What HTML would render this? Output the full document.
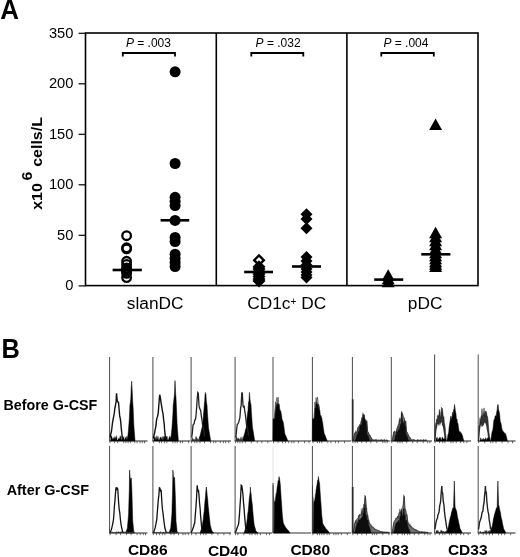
<!DOCTYPE html><html><head><meta charset="utf-8"><title>Figure</title><style>html,body{margin:0;padding:0;background:#fff}svg{display:block}text{font-family:"Liberation Sans",Arial,Helvetica,sans-serif;fill:#000}</style></head><body>
<svg width="520" height="557" viewBox="0 0 520 557">
<rect width="520" height="557" fill="#fff"/>
<text transform="translate(0.2,18.9) scale(0.95,1)" font-size="27.3" font-weight="bold">A</text>
<g stroke="#000" stroke-width="1.6" fill="none" stroke-linecap="butt">
<rect x="85.5" y="33" width="392.5" height="252.60000000000002"/>
<line x1="216.3" y1="33" x2="216.3" y2="285.6"/><line x1="346.9" y1="33" x2="346.9" y2="285.6"/>
</g>
<g stroke="#000" stroke-width="1.2">
<line x1="78.6" y1="33.3" x2="85.5" y2="33.3"/>
<line x1="78.6" y1="83.8" x2="85.5" y2="83.8"/>
<line x1="78.6" y1="134.3" x2="85.5" y2="134.3"/>
<line x1="78.6" y1="184.8" x2="85.5" y2="184.8"/>
<line x1="78.6" y1="235.3" x2="85.5" y2="235.3"/>
<line x1="78.6" y1="285.90000000000003" x2="85.5" y2="285.90000000000003"/>
</g>
<text x="73.4" y="37.9" font-size="14.7" text-anchor="end">350</text>
<text x="73.4" y="88.4" font-size="14.7" text-anchor="end">200</text>
<text x="73.4" y="138.9" font-size="14.7" text-anchor="end">150</text>
<text x="73.4" y="189.4" font-size="14.7" text-anchor="end">100</text>
<text x="73.4" y="239.9" font-size="14.7" text-anchor="end">50</text>
<text x="73.4" y="289.6" font-size="14.7" text-anchor="end">0</text>
<g transform="translate(41.9,209.8) rotate(-90) scale(1,0.93)" font-weight="bold" font-size="16"><text x="0" y="0">x10</text><text x="29.2" y="-10.2">6</text><text x="43" y="0">cells/L</text></g>
<path d="M122.8 56.6V53H175V56.6" fill="none" stroke="#000" stroke-width="1.8"/>
<text x="148.4" y="47" font-size="12" text-anchor="middle"><tspan font-style="italic">P</tspan> = .003</text>
<path d="M251.3 56.6V53H303.3V56.6" fill="none" stroke="#000" stroke-width="1.8"/>
<text x="278.1" y="47" font-size="12" text-anchor="middle"><tspan font-style="italic">P</tspan> = .032</text>
<path d="M381.3 56.6V53H433.8V56.6" fill="none" stroke="#000" stroke-width="1.8"/>
<text x="405.9" y="47" font-size="12" text-anchor="middle"><tspan font-style="italic">P</tspan> = .004</text>
<text x="155.2" y="308.5" font-size="17.3" text-anchor="middle">slanDC</text>
<text x="425.1" y="308.5" font-size="17.3" text-anchor="middle">pDC</text>
<text x="286.7" y="308.5" font-size="17.3" text-anchor="middle">CD1c<tspan font-size="10" dy="-3.6">+</tspan><tspan dy="3.6"> DC</tspan></text>
<circle cx="126.6" cy="235.7" r="4.3" fill="none" stroke="#000" stroke-width="2.3"/>
<circle cx="126.6" cy="247.8" r="4.3" fill="none" stroke="#000" stroke-width="2.3"/>
<circle cx="126.6" cy="248.9" r="4.3" fill="none" stroke="#000" stroke-width="2.3"/>
<circle cx="126.6" cy="261.3" r="4.3" fill="none" stroke="#000" stroke-width="2.3"/>
<circle cx="126.6" cy="264.5" r="4.3" fill="none" stroke="#000" stroke-width="2.3"/>
<circle cx="126.6" cy="268" r="4.3" fill="none" stroke="#000" stroke-width="2.3"/>
<circle cx="126.6" cy="269.8" r="4.3" fill="none" stroke="#000" stroke-width="2.3"/>
<circle cx="126.6" cy="271.5" r="4.3" fill="none" stroke="#000" stroke-width="2.3"/>
<circle cx="126.6" cy="273.3" r="4.3" fill="none" stroke="#000" stroke-width="2.3"/>
<circle cx="126.6" cy="277.6" r="4.3" fill="none" stroke="#000" stroke-width="2.3"/>
<line x1="112.6" y1="270" x2="141.8" y2="270" stroke="#000" stroke-width="2.6"/>
<circle cx="175.1" cy="71.8" r="5.5" fill="#000"/>
<circle cx="175.1" cy="163.5" r="5.5" fill="#000"/>
<circle cx="175.1" cy="197.3" r="5.5" fill="#000"/>
<circle cx="175.1" cy="201.3" r="5.5" fill="#000"/>
<circle cx="175.1" cy="205.5" r="5.5" fill="#000"/>
<circle cx="175.1" cy="220.4" r="5.5" fill="#000"/>
<circle cx="175.1" cy="237.5" r="5.5" fill="#000"/>
<circle cx="175.1" cy="241.5" r="5.5" fill="#000"/>
<circle cx="175.1" cy="254.2" r="5.5" fill="#000"/>
<circle cx="175.1" cy="258.5" r="5.5" fill="#000"/>
<circle cx="175.1" cy="262.5" r="5.5" fill="#000"/>
<circle cx="175.1" cy="266.5" r="5.5" fill="#000"/>
<line x1="160.6" y1="220.3" x2="189.2" y2="220.3" stroke="#000" stroke-width="2.6"/>
<path d="M259 255.39999999999998L263.8 260.2L259 265.0L254.2 260.2Z" fill="#fff" stroke="#000" stroke-width="2.4"/>
<path d="M259 262.0L263.8 266.8L259 271.6L254.2 266.8Z" fill="#000" fill-opacity="0.55" stroke="#000" stroke-width="2.4"/>
<path d="M259 264.2L263.8 269L259 273.8L254.2 269Z" fill="#000" fill-opacity="0.55" stroke="#000" stroke-width="2.4"/>
<path d="M259 266.7L263.8 271.5L259 276.3L254.2 271.5Z" fill="#000" fill-opacity="0.55" stroke="#000" stroke-width="2.4"/>
<path d="M259 269.2L263.8 274L259 278.8L254.2 274Z" fill="#000" fill-opacity="0.55" stroke="#000" stroke-width="2.4"/>
<path d="M259 271.7L263.8 276.5L259 281.3L254.2 276.5Z" fill="#000" fill-opacity="0.55" stroke="#000" stroke-width="2.4"/>
<path d="M259 274.2L263.8 279L259 283.8L254.2 279Z" fill="#000" fill-opacity="0.55" stroke="#000" stroke-width="2.4"/>
<path d="M259 276.2L263.8 281L259 285.8L254.2 281Z" fill="#000" fill-opacity="0.55" stroke="#000" stroke-width="2.4"/>
<line x1="244.2" y1="272" x2="273" y2="272" stroke="#000" stroke-width="2.6"/>
<path d="M306.5 208.2L312.5 214.2L306.5 220.2L300.5 214.2Z" fill="#000"/>
<path d="M306.5 213L312.5 219L306.5 225L300.5 219Z" fill="#000"/>
<path d="M306.5 222.2L312.5 228.2L306.5 234.2L300.5 228.2Z" fill="#000"/>
<path d="M306.5 251L312.5 257L306.5 263L300.5 257Z" fill="#000"/>
<path d="M306.5 255L312.5 261L306.5 267L300.5 261Z" fill="#000"/>
<path d="M306.5 259L312.5 265L306.5 271L300.5 265Z" fill="#000"/>
<path d="M306.5 263L312.5 269L306.5 275L300.5 269Z" fill="#000"/>
<path d="M306.5 266L312.5 272L306.5 278L300.5 272Z" fill="#000"/>
<path d="M306.5 269L312.5 275L306.5 281L300.5 275Z" fill="#000"/>
<path d="M306.5 271.5L312.5 277.5L306.5 283.5L300.5 277.5Z" fill="#000"/>
<line x1="292" y1="266.5" x2="321" y2="266.5" stroke="#000" stroke-width="2.6"/>
<path d="M388.2 269.3L394.7 280.8L381.7 280.8Z" fill="#000"/>
<path d="M388.2 272.7L394.7 284.2L381.7 284.2Z" fill="#000"/>
<path d="M388.2 275.7L394.7 287.2L381.7 287.2Z" fill="#000"/>
<line x1="374.2" y1="279.6" x2="403.2" y2="279.6" stroke="#000" stroke-width="2.6"/>
<path d="M435.6 118.5L442.1 130.0L429.1 130.0Z" fill="#000"/>
<path d="M435.6 226.7L442.1 238.2L429.1 238.2Z" fill="#000"/>
<path d="M435.6 230.7L442.1 242.2L429.1 242.2Z" fill="#000"/>
<path d="M435.6 234.7L442.1 246.2L429.1 246.2Z" fill="#000"/>
<path d="M435.6 238.7L442.1 250.2L429.1 250.2Z" fill="#000"/>
<path d="M435.6 242.7L442.1 254.2L429.1 254.2Z" fill="#000"/>
<path d="M435.6 246.7L442.1 258.2L429.1 258.2Z" fill="#000"/>
<path d="M435.6 249.7L442.1 261.2L429.1 261.2Z" fill="#000"/>
<path d="M435.6 252.7L442.1 264.2L429.1 264.2Z" fill="#000"/>
<path d="M435.6 255.7L442.1 267.2L429.1 267.2Z" fill="#000"/>
<path d="M435.6 258.2L442.1 269.7L429.1 269.7Z" fill="#000"/>
<path d="M435.6 260.4L442.1 271.9L429.1 271.9Z" fill="#000"/>
<line x1="421.3" y1="254.3" x2="450.4" y2="254.3" stroke="#000" stroke-width="2.6"/>
<text transform="translate(1.5,357.8) scale(0.93,1)" font-size="27.3" font-weight="bold">B</text>
<text x="3.5" y="409.5" font-size="14.3" font-weight="bold">Before G-CSF</text>
<text x="6.7" y="495" font-size="14.4" font-weight="bold">After G-CSF</text>
<text x="127.9" y="555.3" font-size="15.5" font-weight="bold">CD86</text>
<text x="207.9" y="556" font-size="15.5" font-weight="bold">CD40</text>
<text x="290.4" y="555.3" font-size="15.5" font-weight="bold">CD80</text>
<text x="369.2" y="555.3" font-size="15.5" font-weight="bold">CD83</text>
<text x="447.9" y="555.3" font-size="15.5" font-weight="bold">CD33</text>
<path d="M109.6 357V441" fill="none" stroke="#4a4a4a" stroke-width="1"/>
<path d="M109.1 441H147.5" fill="none" stroke="#222" stroke-width="1.2"/>
<path d="M110.1 441v2.2M114.6 441v2.2M117.7 441v2.2M123.7 441v2.2M125.9 441v2.2M128.1 441v2.2M130.3 441v2.2M134.8 441v2.2M137.0 441v2.2M140.1 441v2.2M142.3 441v2.2M144.5 441v2.2" stroke="#444" stroke-width="0.8" fill="none"/>
<path d="M152.9 357V441" fill="none" stroke="#4a4a4a" stroke-width="1"/>
<path d="M152.4 441H190" fill="none" stroke="#222" stroke-width="1.2"/>
<path d="M153.4 441v2.2M159.4 441v2.2M161.6 441v2.2M164.7 441v2.2M166.9 441v2.2M172.9 441v2.2M175.1 441v2.2M177.3 441v2.2M180.4 441v2.2M182.6 441v2.2M188.6 441v2.2" stroke="#444" stroke-width="0.8" fill="none"/>
<path d="M191.1 357V441" fill="none" stroke="#4a4a4a" stroke-width="1"/>
<path d="M190.6 441H231" fill="none" stroke="#222" stroke-width="1.2"/>
<path d="M191.6 441v2.2M194.7 441v2.2M196.9 441v2.2M200.0 441v2.2M204.5 441v2.2M210.5 441v2.2M213.6 441v2.2M215.8 441v2.2M220.3 441v2.2M223.4 441v2.2M225.6 441v2.2M228.7 441v2.2" stroke="#444" stroke-width="0.8" fill="none"/>
<path d="M235.1 357V441" fill="none" stroke="#4a4a4a" stroke-width="1"/>
<path d="M234.6 441H272" fill="none" stroke="#222" stroke-width="1.2"/>
<path d="M235.6 441v2.2M237.8 441v2.2M240.0 441v2.2M242.2 441v2.2M245.3 441v2.2M251.3 441v2.2M257.3 441v2.2M261.8 441v2.2M267.8 441v2.2" stroke="#444" stroke-width="0.8" fill="none"/>
<path d="M273 357V441" fill="none" stroke="#4a4a4a" stroke-width="1"/>
<path d="M272.5 441H311" fill="none" stroke="#222" stroke-width="1.2"/>
<path d="M273.5 441v2.2M278.0 441v2.2M282.5 441v2.2M285.6 441v2.2M288.7 441v2.2M291.8 441v2.2M294.0 441v2.2M298.5 441v2.2M304.5 441v2.2M309.0 441v2.2" stroke="#444" stroke-width="0.8" fill="none"/>
<path d="M312.4 357V441" fill="none" stroke="#4a4a4a" stroke-width="1"/>
<path d="M311.9 441H351" fill="none" stroke="#222" stroke-width="1.2"/>
<path d="M312.9 441v2.2M317.4 441v2.2M319.6 441v2.2M321.8 441v2.2M327.8 441v2.2M330.9 441v2.2M335.4 441v2.2M338.5 441v2.2M344.5 441v2.2" stroke="#444" stroke-width="0.8" fill="none"/>
<path d="M352.4 357V441" fill="none" stroke="#4a4a4a" stroke-width="1"/>
<path d="M351.9 441H390" fill="none" stroke="#222" stroke-width="1.2"/>
<path d="M352.9 441v2.2M355.1 441v2.2M357.3 441v2.2M361.8 441v2.2M366.3 441v2.2M370.8 441v2.2M376.8 441v2.2M382.8 441v2.2M385.0 441v2.2M387.2 441v2.2" stroke="#444" stroke-width="0.8" fill="none"/>
<line x1="352.7" y1="399.3" x2="352.7" y2="441" stroke="#2a2a2a" stroke-width="1.7"/>
<path d="M391.3 357V441" fill="none" stroke="#4a4a4a" stroke-width="1"/>
<path d="M390.8 441H432" fill="none" stroke="#222" stroke-width="1.2"/>
<path d="M391.8 441v2.2M397.8 441v2.2M400.0 441v2.2M402.2 441v2.2M406.7 441v2.2M412.7 441v2.2M417.2 441v2.2M423.2 441v2.2M427.7 441v2.2M429.9 441v2.2" stroke="#444" stroke-width="0.8" fill="none"/>
<path d="M434.6 354.5V441" fill="none" stroke="#4a4a4a" stroke-width="1"/>
<path d="M434.1 441H471" fill="none" stroke="#222" stroke-width="1.2"/>
<path d="M435.1 441v2.2M439.6 441v2.2M442.7 441v2.2M444.9 441v2.2M450.9 441v2.2M453.1 441v2.2M456.2 441v2.2M460.7 441v2.2M463.8 441v2.2M466.9 441v2.2" stroke="#444" stroke-width="0.8" fill="none"/>
<path d="M478.2 354.5V441" fill="none" stroke="#4a4a4a" stroke-width="1"/>
<path d="M477.7 441H515.5" fill="none" stroke="#222" stroke-width="1.2"/>
<path d="M478.7 441v2.2M484.7 441v2.2M490.7 441v2.2M492.9 441v2.2M496.0 441v2.2M502.0 441v2.2M508.0 441v2.2M512.5 441v2.2" stroke="#444" stroke-width="0.8" fill="none"/>
<path d="M109.6 446V533" fill="none" stroke="#4a4a4a" stroke-width="1"/>
<path d="M109.1 533H147.5" fill="none" stroke="#222" stroke-width="1.2"/>
<path d="M110.1 533v2.2M116.1 533v2.2M120.6 533v2.2M126.6 533v2.2M131.1 533v2.2M137.1 533v2.2M140.2 533v2.2M143.3 533v2.2M145.5 533v2.2" stroke="#444" stroke-width="0.8" fill="none"/>
<path d="M152.9 446V533" fill="none" stroke="#4a4a4a" stroke-width="1"/>
<path d="M152.4 533H190" fill="none" stroke="#222" stroke-width="1.2"/>
<path d="M153.4 533v2.2M156.5 533v2.2M159.6 533v2.2M162.7 533v2.2M164.9 533v2.2M170.9 533v2.2M174.0 533v2.2M178.5 533v2.2M183.0 533v2.2M185.2 533v2.2M188.3 533v2.2" stroke="#444" stroke-width="0.8" fill="none"/>
<path d="M191.1 446V533" fill="none" stroke="#4a4a4a" stroke-width="1"/>
<path d="M190.6 533H231" fill="none" stroke="#222" stroke-width="1.2"/>
<path d="M191.6 533v2.2M196.1 533v2.2M200.6 533v2.2M203.7 533v2.2M205.9 533v2.2M211.9 533v2.2M217.9 533v2.2M223.9 533v2.2M229.9 533v2.2" stroke="#444" stroke-width="0.8" fill="none"/>
<path d="M235.1 446V533" fill="none" stroke="#4a4a4a" stroke-width="1"/>
<path d="M234.6 533H272" fill="none" stroke="#222" stroke-width="1.2"/>
<path d="M235.6 533v2.2M237.8 533v2.2M243.8 533v2.2M249.8 533v2.2M252.0 533v2.2M255.1 533v2.2M257.3 533v2.2M260.4 533v2.2M266.4 533v2.2M269.5 533v2.2" stroke="#444" stroke-width="0.8" fill="none"/>
<path d="M273 483V533H311" fill="none" stroke="#333" stroke-width="1"/>
<line x1="273" y1="446" x2="273" y2="483" stroke="#ddd" stroke-width="0.8"/>
<path d="M312.4 446V533" fill="none" stroke="#4a4a4a" stroke-width="1"/>
<path d="M311.9 533H351" fill="none" stroke="#222" stroke-width="1.2"/>
<path d="M312.9 533v2.2M317.4 533v2.2M319.6 533v2.2M321.8 533v2.2M324.0 533v2.2M327.1 533v2.2M329.3 533v2.2M333.8 533v2.2M336.0 533v2.2M338.2 533v2.2M341.3 533v2.2M347.3 533v2.2" stroke="#444" stroke-width="0.8" fill="none"/>
<path d="M352.4 446V533" fill="none" stroke="#4a4a4a" stroke-width="1"/>
<path d="M351.9 533H390" fill="none" stroke="#222" stroke-width="1.2"/>
<path d="M352.9 533v2.2M357.4 533v2.2M361.9 533v2.2M366.4 533v2.2M372.4 533v2.2M374.6 533v2.2M376.8 533v2.2M382.8 533v2.2M388.8 533v2.2" stroke="#444" stroke-width="0.8" fill="none"/>
<line x1="352.7" y1="487" x2="352.7" y2="533" stroke="#2a2a2a" stroke-width="1.7"/>
<path d="M391.3 446V533" fill="none" stroke="#4a4a4a" stroke-width="1"/>
<path d="M390.8 533H432" fill="none" stroke="#222" stroke-width="1.2"/>
<path d="M391.8 533v2.2M397.8 533v2.2M402.3 533v2.2M404.5 533v2.2M407.6 533v2.2M409.8 533v2.2M414.3 533v2.2M418.8 533v2.2M424.8 533v2.2M427.9 533v2.2M430.1 533v2.2" stroke="#444" stroke-width="0.8" fill="none"/>
<path d="M434.6 446V533" fill="none" stroke="#4a4a4a" stroke-width="1"/>
<path d="M434.1 533H471" fill="none" stroke="#222" stroke-width="1.2"/>
<path d="M435.1 533v2.2M439.6 533v2.2M442.7 533v2.2M444.9 533v2.2M449.4 533v2.2M451.6 533v2.2M456.1 533v2.2M460.6 533v2.2M463.7 533v2.2M468.2 533v2.2" stroke="#444" stroke-width="0.8" fill="none"/>
<path d="M478.2 446V533" fill="none" stroke="#4a4a4a" stroke-width="1"/>
<path d="M477.7 533H515.5" fill="none" stroke="#222" stroke-width="1.2"/>
<path d="M478.7 533v2.2M483.2 533v2.2M486.3 533v2.2M489.4 533v2.2M492.5 533v2.2M498.5 533v2.2M501.6 533v2.2M504.7 533v2.2M510.7 533v2.2" stroke="#444" stroke-width="0.8" fill="none"/>
<path d="M110.6 441.0L110.6 436.9L111.2 435.6L111.8 436.6L112.4 438.3L113.0 439.8L113.6 437.6L114.2 439.0L114.8 436.5L115.4 437.0L116.0 438.9L116.6 435.6L117.2 440.4L117.8 440.3L118.4 438.3L119.0 439.0L119.6 438.2L120.2 435.6L120.8 437.6L121.4 440.8L122.0 436.0L122.6 439.0L123.2 437.4L123.8 436.4L124.4 440.2L125.0 438.7L125.6 437.0L126.2 439.7L126.8 436.1L127.4 438.5L127.6 441.0Z" fill="#000" fill-opacity="1" stroke="#000" stroke-width="0.3"/>
<path d="M110.1 437.3L110.7 434.2L111.3 432.1L111.8 428.7L112.5 422.8L113.1 419.5L113.5 417.4L114.3 413.2L114.9 407.9L115.2 407.0L116.1 401.4L116.5 393.3L117.3 401.2L117.8 401.9L118.5 402.3L119.2 410.5L119.7 416.2L120.4 419.2L120.9 423.6L121.3 428.7L122.1 435.7L122.3 438.2" fill="none" stroke="#111" stroke-width="1.4" stroke-linejoin="miter" stroke-miterlimit="3"/>
<path d="M127.2 441.0L127.2 440.3L127.7 436.8L128.2 433.1L128.7 426.7L129.3 419.2L129.7 410.4L129.9 405.4L130.2 403.7L130.8 398.4L131.2 388.6L131.7 381.2L132.4 394.9L132.7 402.0L133.1 407.2L133.8 424.4L134.2 429.9L134.7 436.8L135.0 440.3L135.0 441.0Z" fill="#000" fill-opacity="1" stroke="#000" stroke-opacity="1" stroke-width="0.5"/>
<path d="M153.9 441.0L153.9 436.6L154.5 437.0L155.1 440.3L155.7 436.8L156.3 440.1L156.9 435.6L157.5 439.8L158.1 436.2L158.7 440.7L159.3 439.7L159.9 438.1L160.5 436.8L161.1 439.1L161.7 437.9L162.3 436.4L162.9 440.5L163.5 436.9L164.1 436.0L164.7 437.3L165.3 436.5L165.9 438.1L166.5 436.4L167.1 436.1L167.7 440.1L168.3 440.0L168.9 438.1L169.5 436.2L170.1 436.7L170.7 437.6L170.9 441.0Z" fill="#000" fill-opacity="1" stroke="#000" stroke-width="0.3"/>
<path d="M153.4 438.5L154.0 435.2L154.6 433.1L155.1 429.9L155.8 426.6L156.4 421.2L156.8 418.6L157.6 416.2L158.2 413.3L158.6 408.2L159.4 397.5L159.8 394.5L160.6 399.2L161.1 403.1L161.8 407.1L162.5 411.7L163.0 413.4L163.7 420.4L164.2 423.8L164.6 429.9L165.4 437.2L165.6 439.4" fill="none" stroke="#111" stroke-width="1.4" stroke-linejoin="miter" stroke-miterlimit="3"/>
<path d="M170.5 441.0L170.5 439.7L171.0 436.4L171.5 432.5L172.0 427.1L172.6 418.6L173.0 411.7L173.2 404.8L173.5 403.2L174.1 397.8L174.5 393.4L175.0 380.6L175.7 394.3L176.0 397.8L176.4 406.6L177.1 423.8L177.5 430.0L178.0 436.0L178.3 439.7L178.3 441.0Z" fill="#000" fill-opacity="1" stroke="#000" stroke-opacity="1" stroke-width="0.5"/>
<path d="M198.5 441.0L198.5 440.3L199.0 438.5L199.5 437.0L200.0 435.7L200.5 434.1L200.7 433.0L201.0 432.0L201.5 429.5L202.0 428.0L202.4 426.1L203.0 421.0L203.7 412.3L204.0 409.0L204.5 401.9L204.7 401.8L205.0 395.2L205.4 392.4L206.0 394.8L206.4 402.0L207.0 405.2L207.4 412.3L208.0 420.9L208.5 427.8L209.0 430.8L209.5 433.8L210.0 436.7L210.6 440.3L210.6 441.0Z" fill="#000" fill-opacity="1" stroke="#000" stroke-opacity="1" stroke-width="0.5"/>
<path d="M192.0 441.0L192.0 439.3L192.6 437.6L193.2 438.7L193.8 439.8L194.4 439.3L195.0 440.2L195.6 437.1L196.2 436.3L196.8 437.7L197.4 439.0L198.0 439.6L198.6 440.1L199.2 438.6L199.8 437.2L200.0 441.0Z" fill="#333" fill-opacity="1" stroke="#333" stroke-width="0.3"/>
<path d="M191.7 437.4L192.3 433.2L192.9 426.1L193.3 424.4L194.1 423.9L194.7 420.3L195.5 419.2L195.9 417.0L196.7 407.0L197.1 399.7L197.8 392.5L198.3 393.2L199.0 405.4L199.5 407.8L200.1 409.4L200.7 410.6L201.3 415.8L201.9 419.2L202.5 424.7L203.3 427.8L203.7 430.8L204.3 434.4L204.7 436.5" fill="none" stroke="#222" stroke-width="1.3" stroke-linejoin="miter" stroke-miterlimit="3"/>
<path d="M242.5 441.0L242.5 440.3L243.0 438.7L243.5 436.9L244.0 435.6L244.5 433.8L244.7 433.0L245.0 432.3L245.5 429.2L246.0 428.8L246.4 426.1L247.0 418.7L247.7 412.3L248.0 410.5L248.5 401.9L248.7 401.8L249.0 401.0L249.4 392.4L250.0 399.3L250.4 402.0L251.0 405.2L251.4 412.3L252.0 421.0L252.5 427.8L253.0 430.2L253.5 433.3L254.0 436.4L254.6 440.3L254.6 441.0Z" fill="#000" fill-opacity="1" stroke="#000" stroke-opacity="1" stroke-width="0.5"/>
<path d="M236.0 441.0L236.0 437.6L236.6 436.3L237.2 438.9L237.8 438.2L238.4 438.3L239.0 438.4L239.6 439.2L240.2 439.5L240.8 437.0L241.4 439.9L242.0 436.5L242.6 439.5L243.2 440.7L243.8 440.4L244.0 441.0Z" fill="#333" fill-opacity="1" stroke="#333" stroke-width="0.3"/>
<path d="M235.7 437.4L236.3 432.9L236.9 427.0L237.3 424.4L238.1 423.7L238.7 422.2L239.5 419.2L239.9 417.6L240.7 407.0L241.1 406.3L241.8 392.5L242.3 393.2L243.0 405.4L243.5 407.6L244.1 405.6L244.7 410.6L245.3 414.1L245.9 419.2L246.5 424.9L247.3 427.8L247.7 429.9L248.3 433.4L248.7 436.5" fill="none" stroke="#222" stroke-width="1.3" stroke-linejoin="miter" stroke-miterlimit="3"/>
<path d="M272.9 441.0L272.9 440.4L273.1 420.5L273.4 418.3L273.9 419.3L274.4 418.7L274.6 417.5L274.9 413.1L275.5 407.9L275.9 405.6L276.4 404.0L276.9 403.4L277.4 404.4L277.8 402.8L278.4 403.7L279.0 404.0L279.4 405.7L279.9 410.0L280.2 410.6L280.4 410.4L280.9 411.7L281.6 415.7L281.9 418.5L282.4 420.4L282.9 421.1L283.3 422.7L283.9 426.5L284.4 431.0L284.7 433.1L284.9 433.9L285.4 434.9L285.9 436.0L286.4 437.3L286.9 438.5L287.6 440.3L287.6 441.0Z" fill="#000" fill-opacity="1" stroke="#000" stroke-opacity="1" stroke-width="0.5"/>
<path d="M274.6 417.5L275.5 401.9L276.0 407.0L276.4 401.3L276.7 397.6L277.1 399.5L277.4 403.6L278.1 397.1L278.8 403.6L279.5 408.8" fill="none" stroke="#444" stroke-width="0.7" stroke-linejoin="miter" stroke-miterlimit="3"/>
<path d="M312.3 441.0L312.3 440.4L312.5 420.5L312.8 418.3L313.3 419.2L313.8 418.6L314.1 417.5L314.3 415.4L314.9 407.9L315.3 407.4L315.8 404.0L316.3 401.8L316.8 402.0L317.2 402.8L317.8 405.0L318.4 404.0L318.8 404.4L319.3 407.3L319.6 410.6L319.8 410.2L320.3 414.9L321.0 415.7L321.3 416.8L321.8 418.1L322.3 421.3L322.7 422.7L323.3 428.0L323.8 430.9L324.1 433.1L324.3 433.7L324.8 434.9L325.3 435.8L325.8 437.3L326.3 438.5L327.0 440.3L327.0 441.0Z" fill="#000" fill-opacity="1" stroke="#000" stroke-opacity="1" stroke-width="0.5"/>
<path d="M314.1 417.5L314.6 407.6L314.9 401.9L315.4 407.0L315.9 402.1L316.1 397.6L316.4 401.0L316.8 403.6L317.5 397.1L318.2 403.6L318.9 408.8" fill="none" stroke="#444" stroke-width="0.7" stroke-linejoin="miter" stroke-miterlimit="3"/>
<path d="M353.4 441.0L353.4 440.3L353.9 438.0L354.6 433.0L354.9 433.3L355.4 433.1L355.9 430.5L356.4 432.5L356.9 433.3L357.2 431.3L357.9 427.4L358.4 429.2L359.0 426.1L359.4 427.1L359.9 425.0L360.4 425.8L360.9 423.3L361.2 420.9L361.9 417.3L362.4 419.5L362.9 412.7L363.3 414.4L363.9 420.2L364.4 414.6L365.0 419.2L365.4 422.7L365.9 419.4L366.4 421.5L366.8 420.9L367.6 431.3L367.9 432.7L368.4 432.5L368.9 435.1L369.4 434.8L369.9 434.8L370.4 435.9L370.9 437.9L371.4 437.8L371.9 438.8L372.3 439.6L372.3 441.0Z" fill="#111" fill-opacity="0.7" stroke="#111" stroke-opacity="0.7" stroke-width="0.5"/>
<path d="M355.5 441.0L355.5 440.3L356.0 438.5L356.5 436.4L357.0 434.6L357.2 434.8L357.5 434.2L358.0 434.2L358.5 431.1L359.0 433.2L359.5 429.6L360.0 425.4L360.5 424.9L361.0 425.6L361.6 424.4L362.0 423.7L362.5 418.3L363.0 419.2L363.3 418.3L364.0 414.7L364.7 422.7L365.0 420.2L365.5 423.5L366.0 421.9L366.4 426.2L367.0 434.5L367.4 434.7L368.0 435.7L368.5 437.0L369.0 438.8L369.4 440.0L369.4 441.0Z" fill="#000" fill-opacity="0.85" stroke="#000" stroke-opacity="0.85" stroke-width="0.5"/>
<path d="M353.4 440.3L354.0 436.2L354.6 433.0L355.2 432.4L355.8 433.1L356.4 432.9L357.2 431.3L357.6 429.8L358.2 426.9L359.0 426.1L359.4 425.5L360.0 423.9L360.6 424.3L361.2 420.9L361.8 421.5L362.4 416.9L363.3 414.4L363.6 416.9L364.2 418.4L365.0 419.2L365.4 419.8L366.0 422.4L366.8 420.9L367.2 425.2L367.6 431.3L368.4 432.2L369.0 434.8L369.4 434.8L369.6 435.2L370.2 435.9L370.8 437.2L371.4 438.0L372.3 439.6" fill="none" stroke="#222" stroke-width="0.7" stroke-linejoin="miter" stroke-miterlimit="3"/>
<path d="M372.0 441.0L372.0 439.1L372.6 440.3L373.2 439.3L373.8 440.3L374.4 439.5L375.0 439.9L375.6 439.1L376.2 440.6L376.8 439.0L377.4 440.2L378.0 440.7L378.6 439.5L379.2 440.4L379.8 439.6L380.4 440.1L381.0 439.5L381.6 439.4L382.2 439.6L382.8 440.5L383.4 439.8L384.0 439.8L384.6 438.9L385.2 440.6L385.8 440.4L386.4 439.8L387.0 439.4L387.6 440.2L388.0 441.0Z" fill="#333" fill-opacity="1" stroke="#333" stroke-width="0.3"/>
<path d="M392.3 441.0L392.3 440.3L392.8 437.4L393.6 433.0L393.8 432.0L394.3 430.8L394.8 432.0L395.3 432.5L395.8 433.1L396.1 431.3L396.8 429.4L397.3 428.8L397.9 426.1L398.3 427.8L398.8 423.9L399.3 419.1L399.8 417.8L400.1 420.9L400.8 419.7L401.3 413.1L401.8 411.1L402.2 414.4L402.8 420.4L403.3 421.4L403.9 419.2L404.3 417.5L404.8 422.1L405.3 421.8L405.7 420.9L406.5 431.3L406.8 431.6L407.3 432.5L407.8 434.6L408.3 434.8L408.8 436.6L409.3 436.8L409.8 437.4L410.3 437.8L410.8 439.1L411.2 439.6L411.2 441.0Z" fill="#111" fill-opacity="0.7" stroke="#111" stroke-opacity="0.7" stroke-width="0.5"/>
<path d="M394.4 441.0L394.4 440.3L394.9 439.2L395.4 435.9L395.9 434.8L396.1 434.8L396.4 434.6L396.9 431.7L397.4 432.4L397.9 431.6L398.4 429.6L398.9 431.6L399.4 428.7L399.9 427.6L400.5 424.4L400.9 424.9L401.4 422.5L401.9 412.6L402.2 418.3L402.9 424.9L403.6 422.7L403.9 429.4L404.4 421.5L404.9 428.0L405.3 426.2L405.9 434.2L406.4 434.7L406.9 436.7L407.4 436.8L407.9 439.6L408.3 440.0L408.3 441.0Z" fill="#000" fill-opacity="0.85" stroke="#000" stroke-opacity="0.85" stroke-width="0.5"/>
<path d="M392.3 440.3L392.9 436.3L393.6 433.0L394.1 432.1L394.7 431.5L395.3 432.3L396.1 431.3L396.5 431.3L397.1 427.8L397.9 426.1L398.3 424.5L398.9 425.1L399.5 420.2L400.1 420.9L400.7 419.3L401.3 418.1L402.2 414.4L402.5 413.6L403.1 415.3L403.9 419.2L404.3 420.0L404.9 422.6L405.7 420.9L406.1 425.8L406.5 431.3L407.3 433.1L407.9 433.5L408.3 434.8L408.5 435.2L409.1 436.6L409.7 437.6L410.3 437.9L411.2 439.6" fill="none" stroke="#222" stroke-width="0.7" stroke-linejoin="miter" stroke-miterlimit="3"/>
<path d="M410.9 441.0L410.9 440.0L411.5 439.6L412.1 440.5L412.7 439.1L413.3 439.8L413.9 439.0L414.5 439.7L415.1 440.5L415.7 440.0L416.3 440.2L416.9 440.3L417.5 439.3L418.1 439.5L418.7 440.0L419.3 440.3L419.9 439.8L420.5 439.5L421.1 440.6L421.7 439.5L422.3 440.6L422.9 439.8L423.5 439.2L424.1 439.7L424.7 439.9L425.3 440.1L425.9 439.3L426.5 439.9L426.9 441.0Z" fill="#333" fill-opacity="1" stroke="#333" stroke-width="0.3"/>
<path d="M434.9 441.0L434.9 440.0L435.3 426.1L435.9 422.5L436.4 422.7L436.6 419.2L436.9 421.6L437.4 416.2L438.0 414.9L438.4 416.5L438.9 415.3L439.4 409.4L440.1 412.3L440.4 416.0L440.9 418.1L441.4 407.1L441.9 413.2L442.4 408.3L442.7 411.4L443.4 417.9L443.9 416.6L444.4 423.1L444.8 424.4L445.4 429.6L445.6 433.1L445.9 435.4L446.3 439.1L446.3 441.0Z" fill="#000" fill-opacity="0.8" stroke="#000" stroke-opacity="0.8" stroke-width="0.5"/>
<path d="M435.6 441.0L435.6 440.0L436.3 431.4L436.6 429.3L437.1 427.3L437.5 424.4L438.1 424.1L438.6 425.4L439.2 426.1L439.6 424.0L440.1 422.7L440.6 425.5L441.0 422.7L441.6 421.9L442.1 425.5L442.7 426.1L443.1 427.9L443.6 431.5L443.9 433.1L444.6 440.0L444.6 441.0Z" fill="#fff" fill-opacity="1" stroke="#fff" stroke-opacity="1" stroke-width="0"/>
<path d="M436.0 441.0L436.0 439.6L436.6 437.7L437.2 437.1L437.8 440.3L438.4 439.2L439.0 437.9L439.6 437.7L440.2 437.1L440.8 438.9L441.4 440.5L442.0 437.3L442.6 437.3L443.2 438.8L443.8 439.0L444.4 439.1L445.0 437.8L445.6 439.9L446.0 441.0Z" fill="#000" fill-opacity="1" stroke="#000" stroke-width="0.3"/>
<path d="M447.0 441.0L447.0 440.3L447.5 438.1L448.0 434.3L448.5 433.5L448.8 431.3L449.0 428.2L449.5 424.6L450.1 420.9L450.5 417.8L451.0 416.1L451.5 420.4L452.2 415.7L452.5 412.2L453.0 416.5L453.6 409.7L454.0 410.9L454.5 404.5L455.0 407.7L455.3 410.6L456.0 414.0L456.5 420.5L457.0 418.9L457.4 422.7L458.0 423.6L458.5 427.8L459.1 431.3L459.5 431.5L460.0 432.2L460.5 431.7L461.0 433.8L461.7 433.4L462.0 434.8L462.5 435.5L463.0 438.1L463.6 440.0L463.6 441.0Z" fill="#000" fill-opacity="1" stroke="#000" stroke-opacity="1" stroke-width="0.5"/>
<path d="M478.5 441.0L478.5 440.0L478.9 426.1L479.5 424.8L480.0 417.7L480.2 419.2L480.5 423.3L481.0 416.4L481.6 414.9L482.0 408.6L482.5 416.4L483.0 415.4L483.7 412.3L484.0 407.9L484.5 415.3L485.0 411.5L485.5 411.1L486.0 417.6L486.3 411.4L487.0 415.5L487.5 416.6L488.0 419.8L488.4 424.4L489.0 432.8L489.2 433.1L489.5 436.2L489.9 439.1L489.9 441.0Z" fill="#000" fill-opacity="0.8" stroke="#000" stroke-opacity="0.8" stroke-width="0.5"/>
<path d="M479.2 441.0L479.2 440.0L479.9 431.4L480.2 428.2L480.7 426.1L481.1 424.4L481.7 427.0L482.2 426.8L482.9 426.1L483.2 425.8L483.7 425.0L484.2 423.4L484.6 422.7L485.2 422.9L485.7 423.9L486.3 426.1L486.7 429.0L487.2 431.6L487.5 433.1L488.2 440.0L488.2 441.0Z" fill="#fff" fill-opacity="1" stroke="#fff" stroke-opacity="1" stroke-width="0"/>
<path d="M479.6 441.0L479.6 440.8L480.2 439.7L480.8 437.6L481.4 440.5L482.0 438.9L482.6 440.0L483.2 437.9L483.8 440.1L484.4 439.0L485.0 439.8L485.6 437.4L486.2 440.4L486.8 438.4L487.4 438.5L488.0 437.4L488.6 439.0L489.2 437.3L489.6 441.0Z" fill="#000" fill-opacity="1" stroke="#000" stroke-width="0.3"/>
<path d="M490.6 441.0L490.6 440.3L491.1 438.2L491.6 435.0L492.1 431.4L492.4 431.3L492.6 430.9L493.1 427.8L493.8 420.9L494.1 419.4L494.6 419.3L495.1 416.0L495.8 415.7L496.1 416.9L496.6 412.6L497.2 409.7L497.6 405.0L498.1 404.5L498.6 410.2L498.9 410.6L499.6 414.0L500.1 419.9L500.6 422.9L501.0 422.7L501.6 427.3L502.1 429.4L502.7 431.3L503.1 431.2L503.6 432.0L504.1 432.5L504.6 433.3L505.3 433.4L505.6 434.0L506.1 435.6L506.6 437.4L507.2 440.0L507.2 441.0Z" fill="#000" fill-opacity="1" stroke="#000" stroke-opacity="1" stroke-width="0.5"/>
<path d="M110.2 532.8L110.8 531.0L111.4 529.3L111.8 527.9L112.6 524.3L113.2 521.5L113.5 519.3L113.8 515.5L114.4 506.2L114.7 503.7L115.0 499.9L115.6 491.6L116.1 487.3L116.8 489.1L117.4 487.6L117.8 489.9L118.7 503.8L119.2 509.1L119.8 513.0L120.4 519.3L121.0 524.1L121.7 528.0L122.2 529.9L123.0 532.8" fill="none" stroke="#111" stroke-width="1.3" stroke-linejoin="miter" stroke-miterlimit="3"/>
<path d="M125.8 533.0L125.8 532.8L126.3 531.3L126.8 529.7L127.4 527.9L127.8 522.9L128.3 517.4L128.6 514.0L128.8 505.5L129.3 489.9L129.6 470.1L130.3 479.5L130.8 478.8L131.3 477.9L131.8 488.9L132.0 495.2L132.3 505.9L132.7 521.0L133.3 526.6L133.9 532.8L133.9 533.0Z" fill="#000" fill-opacity="1" stroke="#000" stroke-opacity="1" stroke-width="0.5"/>
<path d="M110.6 533.0L110.6 532.2L111.2 532.3L111.8 532.2L112.4 531.7L113.0 532.7L113.6 532.5L114.2 532.7L114.8 532.0L115.4 532.3L116.0 532.3L116.6 531.5L117.2 532.7L117.8 531.8L118.4 531.8L119.0 531.5L119.6 532.4L120.2 531.8L120.8 532.0L121.4 531.7L122.0 531.5L122.6 532.7L123.2 531.6L123.8 532.6L124.4 531.8L125.0 532.1L125.6 531.7L126.2 531.7L126.8 531.5L127.4 531.7L128.0 532.6L128.6 532.1L129.2 532.8L129.8 531.5L130.4 532.4L131.0 531.8L131.6 532.6L132.2 532.5L132.8 531.6L133.4 532.2L134.0 531.7L134.6 532.0L135.0 533.0Z" fill="#333" fill-opacity="1" stroke="#333" stroke-width="0.3"/>
<path d="M153.5 532.8L154.1 530.9L154.7 529.1L155.1 527.9L155.9 524.2L156.5 520.9L156.8 519.3L157.1 514.9L157.7 507.6L158.0 503.7L158.3 499.9L158.9 494.9L159.4 487.3L160.1 488.8L160.7 491.7L161.1 489.9L162.0 503.8L162.5 509.9L163.1 513.5L163.7 519.3L164.3 523.9L164.9 528.0L165.5 530.0L166.3 532.8" fill="none" stroke="#111" stroke-width="1.3" stroke-linejoin="miter" stroke-miterlimit="3"/>
<path d="M169.1 533.0L169.1 532.8L169.6 531.2L170.1 529.6L170.7 527.9L171.1 523.2L171.6 517.6L171.9 514.0L172.1 506.1L172.6 489.9L172.9 470.1L173.6 479.5L174.1 477.0L174.6 477.9L175.1 490.3L175.3 495.2L175.6 505.2L176.0 521.0L176.6 526.5L177.2 532.8L177.2 533.0Z" fill="#000" fill-opacity="1" stroke="#000" stroke-opacity="1" stroke-width="0.5"/>
<path d="M153.9 533.0L153.9 531.7L154.5 531.7L155.1 532.4L155.7 532.4L156.3 532.4L156.9 532.4L157.5 532.4L158.1 532.2L158.7 532.5L159.3 532.5L159.9 532.4L160.5 531.5L161.1 532.5L161.7 532.7L162.3 532.4L162.9 532.5L163.5 532.1L164.1 531.9L164.7 532.7L165.3 532.2L165.9 532.7L166.5 532.8L167.1 531.6L167.7 532.5L168.3 532.2L168.9 532.3L169.5 531.6L170.1 532.5L170.7 532.7L171.3 532.0L171.9 531.6L172.5 532.5L173.1 532.7L173.7 532.1L174.3 532.6L174.9 532.0L175.5 531.7L176.1 531.9L176.7 532.8L177.3 531.9L177.9 531.8L178.3 533.0Z" fill="#333" fill-opacity="1" stroke="#333" stroke-width="0.3"/>
<path d="M200.2 533.0L200.2 532.8L200.7 531.1L201.2 529.6L201.7 527.7L202.2 526.3L202.4 525.0L202.7 522.4L203.2 519.8L203.7 514.5L204.2 511.2L204.7 503.8L205.4 497.3L205.7 492.8L206.2 487.6L206.4 487.0L206.7 490.2L207.2 495.3L207.4 497.3L207.7 499.2L208.2 506.2L208.8 511.2L209.2 515.8L209.7 519.7L210.2 525.0L210.7 526.7L211.2 528.5L211.7 530.1L211.9 531.1L212.2 531.3L212.7 531.9L213.2 532.3L213.7 532.8L213.7 533.0Z" fill="#000" fill-opacity="1" stroke="#000" stroke-opacity="1" stroke-width="0.5"/>
<path d="M191.2 532.8L191.8 531.3L192.4 529.9L192.9 528.5L193.6 526.7L194.2 524.0L194.7 523.3L195.4 513.6L196.0 506.1L196.6 497.0L197.2 485.3L197.8 490.8L198.5 490.5L199.0 495.2L199.5 502.5L200.2 509.3L200.5 514.6L201.6 526.8L202.0 528.8L202.8 532.3" fill="none" stroke="#111" stroke-width="1.3" stroke-linejoin="miter" stroke-miterlimit="3"/>
<path d="M244.2 533.0L244.2 532.8L244.7 531.2L245.2 529.2L245.7 527.4L246.2 525.8L246.4 525.0L246.7 523.1L247.2 519.2L247.7 514.1L248.2 511.2L248.7 505.4L249.4 497.3L249.7 495.8L250.2 491.3L250.4 487.0L250.7 491.9L251.2 494.4L251.4 497.3L251.7 500.3L252.2 503.8L252.8 511.2L253.2 515.5L253.7 520.4L254.2 525.0L254.7 527.0L255.2 528.3L255.7 530.2L255.9 531.1L256.2 531.3L256.7 531.8L257.2 532.3L257.7 532.8L257.7 533.0Z" fill="#000" fill-opacity="1" stroke="#000" stroke-opacity="1" stroke-width="0.5"/>
<path d="M235.2 532.8L235.8 531.4L236.4 529.9L236.9 528.5L237.6 526.8L238.2 525.1L238.7 523.3L239.4 515.4L240.0 506.1L240.6 497.2L241.2 485.3L241.8 485.7L242.5 490.5L243.0 495.0L243.5 502.5L244.2 509.6L244.5 514.6L245.6 526.8L246.0 528.8L246.8 532.3" fill="none" stroke="#111" stroke-width="1.3" stroke-linejoin="miter" stroke-miterlimit="3"/>
<path d="M272.9 533.0L272.9 532.9L273.1 485.3L273.6 497.3L273.9 497.4L274.5 501.3L274.6 532.7L274.6 533.0Z" fill="#222" fill-opacity="0.55" stroke="#222" stroke-opacity="0.55" stroke-width="0.5"/>
<path d="M274.1 533.0L274.1 533.0L274.5 501.7L275.1 501.9L275.5 499.1L276.1 493.5L276.4 493.9L276.6 492.9L277.1 487.7L277.8 483.6L278.1 480.6L278.6 481.3L279.0 476.6L279.6 479.0L280.2 483.6L280.6 489.2L281.2 499.0L281.6 503.9L282.3 514.6L282.6 517.5L283.3 523.3L283.6 523.5L284.1 524.6L284.6 525.4L285.1 526.6L285.6 527.2L285.9 527.6L286.1 527.9L286.6 528.8L287.1 529.0L287.6 529.9L288.1 530.4L288.6 531.1L289.1 531.5L289.7 532.3L289.7 533.0Z" fill="#000" fill-opacity="1" stroke="#000" stroke-opacity="1" stroke-width="0.5"/>
<path d="M312.3 533.0L312.3 532.9L312.5 485.3L313.0 497.3L313.3 497.5L313.9 501.3L314.1 532.7L314.1 533.0Z" fill="#222" fill-opacity="0.55" stroke="#222" stroke-opacity="0.55" stroke-width="0.5"/>
<path d="M313.5 533.0L313.5 533.0L313.9 501.7L314.5 501.3L314.9 499.1L315.5 493.7L315.8 493.9L316.0 490.3L316.5 487.4L317.2 483.6L317.5 480.4L318.0 479.7L318.4 476.6L319.0 481.0L319.6 483.6L320.0 490.4L320.6 499.0L321.0 504.0L321.7 514.6L322.0 517.2L322.7 523.3L323.0 523.7L323.5 524.9L324.0 525.8L324.5 526.5L325.0 527.3L325.3 527.6L325.5 527.9L326.0 528.7L326.5 529.4L327.0 529.6L327.5 530.4L328.0 531.0L328.5 531.6L329.1 532.3L329.1 533.0Z" fill="#000" fill-opacity="1" stroke="#000" stroke-opacity="1" stroke-width="0.5"/>
<path d="M353.3 533.0L353.3 532.8L353.8 528.8L354.3 524.7L354.6 523.3L355.3 520.4L355.8 521.7L356.4 519.9L356.8 522.3L357.3 519.7L357.8 519.0L358.3 515.0L359.0 516.4L359.3 515.9L359.8 513.8L360.3 518.7L360.8 517.3L361.3 508.7L361.8 514.1L362.4 511.2L362.8 507.7L363.3 513.8L363.8 504.0L364.2 506.0L364.8 495.0L365.4 496.5L365.8 499.0L366.4 509.5L366.8 507.9L367.3 517.8L367.6 514.7L368.3 521.2L368.8 519.7L369.4 523.3L369.8 523.0L370.3 526.2L370.8 526.6L371.3 524.5L371.9 526.8L372.3 527.6L372.8 526.5L373.3 527.0L373.8 527.7L374.3 528.0L374.8 529.5L375.4 529.4L375.8 528.9L376.3 529.6L376.8 530.3L377.3 530.4L377.8 530.2L378.3 530.1L378.8 530.9L379.3 531.3L379.8 530.9L380.3 531.5L380.6 531.6L381.3 531.6L381.8 531.7L382.3 531.9L382.8 531.9L383.3 532.1L383.8 532.0L384.3 531.9L384.8 532.1L385.3 532.2L385.8 532.2L386.3 532.1L386.8 532.3L387.3 532.2L387.8 532.5L388.3 532.3L388.8 532.3L389.2 532.5L389.2 533.0Z" fill="#111" fill-opacity="0.6" stroke="#111" stroke-opacity="0.6" stroke-width="0.5"/>
<path d="M354.6 533.0L354.6 532.8L355.1 531.0L355.6 529.0L356.1 526.6L356.7 525.0L357.1 522.3L357.6 524.9L358.1 522.5L358.6 519.5L359.1 519.3L359.8 519.9L360.1 520.2L360.6 519.2L361.1 518.2L361.6 519.5L362.1 516.6L362.6 518.5L363.0 512.9L363.6 514.7L364.1 508.4L364.7 508.6L365.1 504.5L365.6 515.3L366.1 514.7L366.6 516.7L367.1 520.3L367.4 519.8L368.1 520.6L368.8 526.8L369.1 526.3L369.6 527.5L370.1 529.0L370.6 530.7L371.1 532.0L371.1 533.0Z" fill="#000" fill-opacity="0.88" stroke="#000" stroke-opacity="0.88" stroke-width="0.5"/>
<path d="M353.3 532.8L353.9 528.5L354.6 523.3L355.1 523.1L355.7 521.8L356.4 519.9L356.9 518.9L357.5 518.6L358.1 518.0L358.7 518.3L359.0 516.4L359.3 516.0L359.9 514.6L360.5 515.9L361.1 515.0L361.7 512.1L362.4 511.2L362.9 510.8L363.5 508.0L364.2 506.0L364.7 501.8L365.4 496.5L365.9 503.2L366.4 509.5L367.1 513.1L367.6 514.7L368.3 519.0L368.9 521.2L369.4 523.3L370.1 523.7L370.7 525.6L371.3 526.6L371.9 526.8L372.5 526.8L373.1 527.4L373.7 528.1L374.3 528.9L374.9 529.3L375.4 529.4L376.1 529.5L376.7 530.1L377.3 530.0L377.9 530.2L378.5 530.9L379.1 530.8L379.7 531.1L380.3 531.4L380.6 531.6L381.5 531.7L382.1 531.7L382.7 531.8L383.3 531.9L383.9 532.0L384.5 532.1L385.1 532.1L385.7 532.2L386.3 532.2L386.9 532.3L387.5 532.2L388.1 532.4L388.7 532.4L389.2 532.5" fill="none" stroke="#222" stroke-width="0.7" stroke-linejoin="miter" stroke-miterlimit="3"/>
<path d="M392.2 533.0L392.2 532.8L392.7 529.1L393.2 527.0L393.6 523.3L394.2 522.6L394.7 521.0L395.3 519.9L395.7 518.4L396.2 517.6L396.7 518.6L397.2 516.4L397.9 516.4L398.2 515.9L398.7 519.1L399.2 513.3L399.7 508.9L400.2 510.7L400.7 512.4L401.3 511.2L401.7 509.8L402.2 510.2L402.7 508.0L403.1 506.0L403.7 494.7L404.3 496.5L404.7 508.0L405.3 509.5L405.7 509.3L406.2 516.4L406.5 514.7L407.2 514.1L407.7 521.9L408.3 523.3L408.7 523.2L409.2 526.1L409.7 523.7L410.2 524.3L410.9 526.8L411.2 525.7L411.7 528.1L412.2 528.9L412.7 527.8L413.2 528.1L413.7 528.5L414.3 529.4L414.7 528.8L415.2 529.0L415.7 530.3L416.2 529.6L416.7 529.9L417.2 531.1L417.7 530.8L418.2 531.4L418.7 530.9L419.2 531.2L419.5 531.6L420.2 531.9L420.7 532.0L421.2 531.5L421.7 532.0L422.2 531.9L422.7 531.9L423.2 532.0L423.7 531.9L424.2 531.9L424.7 531.9L425.2 532.0L425.7 532.2L426.2 532.3L426.7 532.3L427.2 532.5L427.7 532.6L428.1 532.5L428.1 533.0Z" fill="#111" fill-opacity="0.6" stroke="#111" stroke-opacity="0.6" stroke-width="0.5"/>
<path d="M393.6 533.0L393.6 532.8L394.1 530.4L394.6 529.7L395.1 525.9L395.6 525.0L396.1 522.8L396.6 524.1L397.1 522.1L397.6 521.4L398.1 523.4L398.7 519.9L399.1 523.0L399.6 521.5L400.1 515.8L400.6 519.3L401.1 509.5L401.6 511.3L401.9 512.9L402.6 517.3L403.1 514.9L403.6 508.6L404.1 508.7L404.6 518.4L405.0 514.7L405.6 521.0L406.1 522.6L406.4 519.8L407.1 521.3L407.7 526.8L408.1 526.6L408.6 529.4L409.1 528.9L409.6 530.9L410.0 532.0L410.0 533.0Z" fill="#000" fill-opacity="0.88" stroke="#000" stroke-opacity="0.88" stroke-width="0.5"/>
<path d="M392.2 532.8L392.8 528.5L393.6 523.3L394.0 521.7L394.6 520.7L395.3 519.9L395.8 518.6L396.4 518.7L397.0 518.4L397.6 517.8L397.9 516.4L398.2 517.5L398.8 513.4L399.4 512.6L400.0 512.3L400.6 514.1L401.3 511.2L401.8 508.7L402.4 507.4L403.1 506.0L403.6 502.2L404.3 496.5L404.8 504.9L405.3 509.5L406.0 511.1L406.5 514.7L407.2 517.4L407.8 521.4L408.3 523.3L409.0 524.6L409.6 525.4L410.2 526.1L410.9 526.8L411.4 526.7L412.0 528.1L412.6 527.8L413.2 528.1L413.8 528.7L414.3 529.4L415.0 529.6L415.6 529.9L416.2 530.3L416.8 530.3L417.4 530.6L418.0 531.1L418.6 531.2L419.2 531.6L419.5 531.6L420.4 531.7L421.0 531.9L421.6 531.8L422.2 531.8L422.8 531.9L423.4 532.0L424.0 532.1L424.6 532.1L425.2 532.2L425.8 532.3L426.4 532.3L427.0 532.4L427.6 532.4L428.1 532.5" fill="none" stroke="#222" stroke-width="0.7" stroke-linejoin="miter" stroke-miterlimit="3"/>
<path d="M434.9 529.4L435.5 525.8L435.8 523.3L436.1 521.9L436.7 519.7L437.5 518.1L437.9 515.0L438.5 513.8L439.2 511.2L439.7 505.5L440.5 502.5L440.9 496.9L441.5 489.3L441.8 486.1L442.1 492.1L442.7 493.1L443.2 500.8L443.9 504.5L444.4 511.2L445.1 517.0L445.6 519.9L446.3 525.1L447.0 529.4" fill="none" stroke="#222" stroke-width="1.4" stroke-linejoin="miter" stroke-miterlimit="3"/>
<path d="M436.0 533.0L436.0 530.2L436.6 530.7L437.2 531.4L437.8 530.0L438.4 531.2L439.0 532.5L439.6 531.9L440.2 532.5L440.8 530.2L441.4 530.3L442.0 530.7L442.6 531.6L443.2 531.0L443.8 531.8L444.4 532.0L445.0 531.6L445.6 531.3L446.2 532.3L446.8 530.0L447.0 533.0Z" fill="#222" fill-opacity="1" stroke="#222" stroke-width="0.3"/>
<path d="M446.3 533.0L446.3 532.8L446.8 531.3L447.3 529.7L447.8 528.7L448.4 526.8L448.8 524.5L449.3 521.8L449.8 519.4L450.5 516.4L450.8 516.5L451.3 513.2L451.8 511.6L452.2 510.3L452.8 507.8L453.3 508.4L453.6 507.6L453.8 498.4L454.3 481.0L455.0 506.0L455.3 507.9L455.8 509.0L456.6 511.2L456.8 512.1L457.3 515.9L457.8 518.3L458.3 519.9L458.8 522.9L459.3 525.0L460.0 528.5L460.3 529.0L460.8 530.1L461.3 531.1L461.8 532.0L462.1 532.5L462.1 533.0Z" fill="#000" fill-opacity="1" stroke="#000" stroke-opacity="1" stroke-width="0.5"/>
<path d="M478.5 529.4L479.4 523.3L479.7 521.6L480.3 520.2L481.1 518.1L481.5 515.8L482.1 512.3L482.9 511.2L483.3 506.7L484.1 502.5L484.5 496.3L485.1 491.2L485.4 486.1L485.7 491.4L486.3 492.0L486.8 500.8L487.5 508.0L488.0 511.2L488.7 514.6L489.2 519.9L489.9 523.6L490.6 529.4" fill="none" stroke="#222" stroke-width="1.4" stroke-linejoin="miter" stroke-miterlimit="3"/>
<path d="M479.6 533.0L479.6 532.3L480.2 531.0L480.8 532.3L481.4 532.4L482.0 532.4L482.6 532.0L483.2 532.0L483.8 532.0L484.4 532.5L485.0 530.2L485.6 532.0L486.2 530.3L486.8 531.5L487.4 532.8L488.0 530.4L488.6 531.6L489.2 532.2L489.8 530.1L490.4 532.0L490.6 533.0Z" fill="#222" fill-opacity="1" stroke="#222" stroke-width="0.3"/>
<path d="M489.9 533.0L489.9 532.8L490.4 531.5L490.9 530.0L491.4 528.3L492.0 526.8L492.4 525.3L492.9 522.6L493.4 518.9L494.1 516.4L494.4 514.6L494.9 513.2L495.4 511.2L495.8 510.3L496.4 507.9L496.9 507.6L497.2 507.6L497.4 497.8L497.9 481.0L498.6 506.0L498.9 505.6L499.4 508.3L500.1 511.2L500.4 512.4L500.9 515.9L501.4 518.5L501.9 519.9L502.4 523.3L502.9 525.3L503.6 528.5L503.9 529.3L504.4 530.0L504.9 530.9L505.4 532.1L505.7 532.5L505.7 533.0Z" fill="#000" fill-opacity="1" stroke="#000" stroke-opacity="1" stroke-width="0.5"/>
</svg></body></html>
